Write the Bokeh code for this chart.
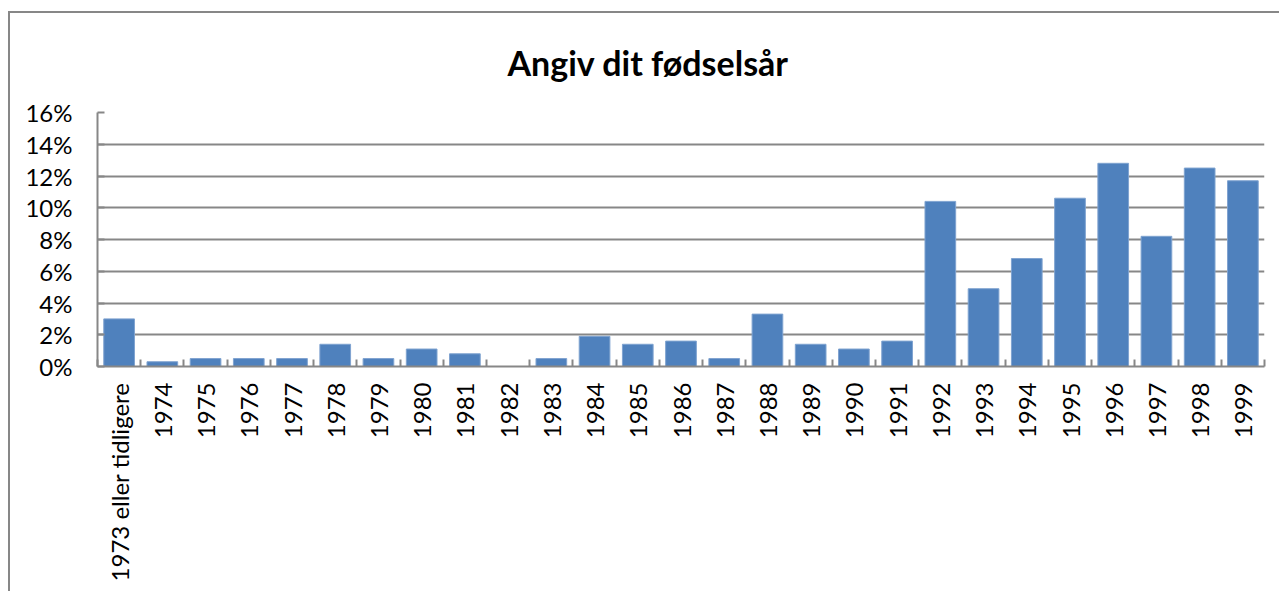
from bokeh.plotting import figure
from bokeh.models import Range1d, FixedTicker, PrintfTickFormatter
from bokeh.embed import file_html
from bokeh.resources import INLINE
import numpy as np
import math

categories = ["1973 eller tidligere", "1974", "1975", "1976", "1977", "1978", "1979",
              "1980", "1981", "1982", "1983", "1984", "1985", "1986", "1987", "1988",
              "1989", "1990", "1991", "1992", "1993", "1994", "1995", "1996", "1997",
              "1998", "1999"]
values = [3.0, 0.3, 0.5, 0.5, 0.5, 1.4, 0.5, 1.1, 0.8, 0.0, 0.5, 1.9, 1.4, 1.6, 0.5,
          3.3, 1.4, 1.1, 1.6, 10.4, 4.9, 6.8, 10.6, 12.8, 8.2, 12.5, 11.7]
y_ticks = [0, 2, 4, 6, 8, 10, 12, 14, 16]
title_text = "Angiv dit fødselsår"

n = len(categories)
centers = list(np.arange(n) + 0.5)
bounds = list(np.arange(n + 1).astype(float))

FONT = "Lato"
GRID = "#878787"

p = figure(width=1271, height=580, output_backend="svg", toolbar_location=None,
           x_range=Range1d(0, n), y_range=Range1d(0, 16),
           min_border_left=87, min_border_right=17, min_border_top=99,
           min_border_bottom=227, title=title_text)
p.styles = {"border-left": "2px solid #878787", "border-top": "2px solid #878787",
            "margin-left": "8px", "margin-top": "11px"}

p.title.align = "left"
p.title.offset = 410
p.title.vertical_align = "top"
p.title.text_font = FONT
p.title.text_font_size = "34px"
p.title.text_font_style = "bold"
p.title.text_color = "black"
p.title.standoff = 56

p.outline_line_color = None
p.background_fill_color = "white"
p.border_fill_color = "white"

p.vbar(x=centers, top=values, width=0.71, fill_color="#4F81BD",
       line_color="#7FA3D0", line_width=1)

# y axis
p.yaxis.ticker = FixedTicker(ticks=y_ticks)
p.yaxis.formatter = PrintfTickFormatter(format="%d%%")
p.yaxis.major_tick_in = 7
p.yaxis.major_tick_out = 0
p.yaxis.minor_tick_line_color = None
p.yaxis.axis_line_color = GRID
p.yaxis.axis_line_width = 2
p.yaxis.major_tick_line_color = GRID
p.yaxis.major_tick_line_width = 2
p.yaxis.major_label_text_font = FONT
p.yaxis.major_label_text_font_size = "24px"
p.yaxis.major_label_text_color = "black"
p.yaxis.major_label_standoff = 25

# x axis
p.xaxis.ticker = FixedTicker(ticks=centers, minor_ticks=bounds)
p.xaxis.major_label_overrides = {c: lab for c, lab in zip(centers, categories)}
p.xaxis.major_tick_in = 0
p.xaxis.major_tick_out = 0
p.xaxis.minor_tick_in = 7
p.xaxis.minor_tick_out = 0
p.xaxis.minor_tick_line_color = GRID
p.xaxis.minor_tick_line_width = 2
p.xaxis.axis_line_color = GRID
p.xaxis.axis_line_width = 2
p.xaxis.major_label_orientation = math.pi / 2
p.xaxis.major_label_text_font = FONT
p.xaxis.major_label_text_font_size = "24px"
p.xaxis.major_label_text_color = "black"
p.xaxis.major_label_standoff = 16

p.xgrid.grid_line_color = None
p.ygrid.ticker = FixedTicker(ticks=y_ticks)
p.ygrid.grid_line_color = GRID
p.ygrid.grid_line_width = 2

open("out.html", "w").write(file_html(p, INLINE))
